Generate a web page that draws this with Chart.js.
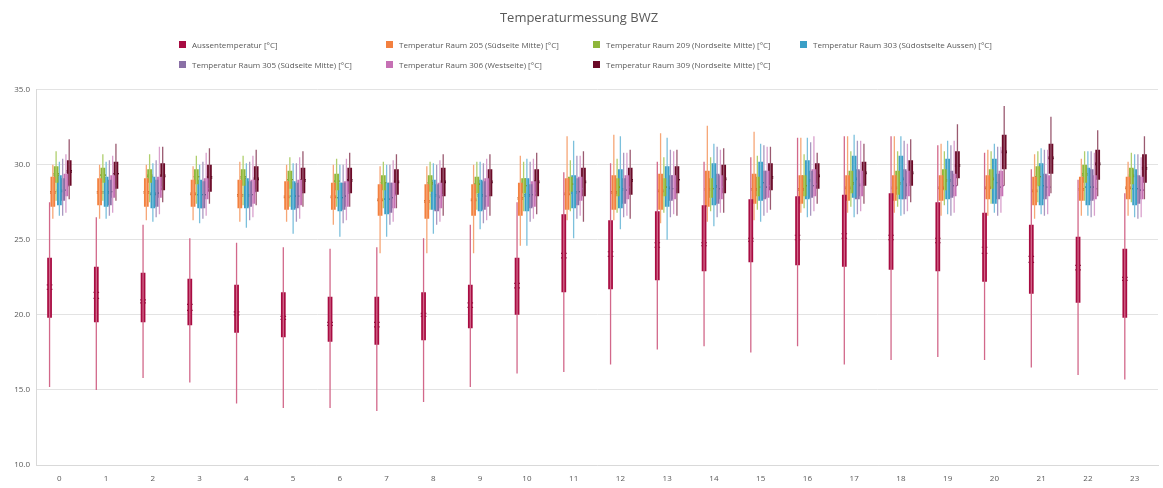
<!DOCTYPE html>
<html>
<head>
<meta charset="utf-8">
<script src="https://cdn.jsdelivr.net/npm/chart.js@4.4.1/dist/chart.umd.min.js"></script>
<style>
    html, body { margin: 0; padding: 0; background: #fff; }
    #wrap { position: relative; width: 1163px; height: 488px; }
    #legend {
        position: absolute; left: 179px; top: 39px;
        display: grid; grid-template-columns: repeat(4, 207px); row-gap: 9px;
        font-family: 'Open Sans', sans-serif; font-size: 8px; color: #595959;
    }
    .item { display: flex; align-items: center; height: 11px; white-space: nowrap; }
    .sw { width: 7px; height: 7px; margin-right: 6px; flex: none; }
</style>
</head>
<body>
<div id="wrap">
    <canvas id="chart" width="1163" height="488"></canvas>
    <div id="legend"></div>
</div>
<script>
// Stunden (Kategorien)
const hours = ['0', '1', '2', '3', '4', '5', '6', '7', '8', '9', '10', '11',
    '12', '13', '14', '15', '16', '17', '18', '19', '20', '21', '22', '23'];

const seriesNames = [
    'Aussentemperatur [°C]',
    'Temperatur Raum 205 (Südseite Mitte) [°C]',
    'Temperatur Raum 209 (Nordseite Mitte) [°C]',
    'Temperatur Raum 303 (Südostseite Aussen) [°C]',
    'Temperatur Raum 305 (Südseite Mitte) [°C]',
    'Temperatur Raum 306 (Westseite) [°C]',
    'Temperatur Raum 309 (Nordseite Mitte) [°C]'
];
const boxColors = ['#a80c42', '#f3803f', '#8fb63a', '#3a9fc6', '#8a70a6', '#c670b4', '#6b0a28'];
const whiskerColors = ['#d2688a', '#f6a676', '#b0cf6e', '#7cc0dc', '#a998c0', '#d9a0cc', '#9a5a70'];
const markColors = ['#6e0a2e', '#b85a22', '#5f7f22', '#25698a', '#584872', '#8a4a7e', '#3a0616'];

// je Stunde: [min, q1, median, mittelwert, q3, max]
const aussen = [
    [15.2, 19.8, 22.0, 21.7, 23.8, 27.5], [15.0, 19.5, 21.5, 21.1, 23.2, 26.5],
    [15.8, 19.5, 21.0, 20.8, 22.8, 26.0], [15.5, 19.3, 20.7, 20.3, 22.4, 25.1],
    [14.1, 18.8, 20.2, 20.0, 22.0, 24.8], [13.8, 18.5, 19.9, 19.7, 21.5, 24.5],
    [13.8, 18.2, 19.5, 19.3, 21.2, 24.4], [13.6, 18.0, 19.5, 19.2, 21.2, 24.5],
    [14.2, 18.3, 20.1, 19.9, 21.5, 25.1], [15.2, 19.1, 20.8, 20.5, 22.0, 26.0],
    [16.1, 20.0, 22.1, 21.8, 23.8, 27.5], [16.2, 21.5, 24.1, 23.8, 26.7, 29.5],
    [16.7, 21.7, 24.2, 23.9, 26.3, 30.1], [17.7, 22.3, 24.8, 24.5, 26.9, 30.2],
    [17.9, 22.9, 24.8, 24.6, 27.3, 30.2], [17.5, 23.5, 25.1, 24.9, 27.7, 30.5],
    [17.9, 23.3, 25.3, 25.0, 27.9, 31.8], [16.7, 23.2, 25.4, 25.1, 28.0, 31.9],
    [17.0, 23.0, 25.3, 25.0, 28.1, 31.9], [17.2, 22.9, 25.1, 24.8, 27.5, 31.3],
    [17.0, 22.2, 24.5, 24.1, 26.8, 30.8], [16.5, 21.4, 23.9, 23.5, 26.0, 29.7],
    [16.0, 20.8, 23.3, 23.0, 25.2, 29.0], [15.7, 19.8, 22.5, 22.3, 24.4, 28.1]
];
const raum205 = [
    [26.4, 27.2, 28.2, 28.1, 29.2, 30.0], [26.4, 27.3, 28.2, 28.1, 29.1, 30.0],
    [26.3, 27.2, 28.2, 28.1, 29.1, 30.0], [26.3, 27.2, 28.1, 28.0, 29.0, 29.9],
    [26.2, 27.1, 28.0, 27.9, 29.0, 30.2], [26.2, 27.0, 27.9, 27.8, 28.9, 30.0],
    [26.0, 27.0, 27.9, 27.8, 28.8, 30.0], [24.1, 26.6, 27.7, 27.6, 28.7, 29.9],
    [24.1, 26.4, 27.6, 27.5, 28.7, 29.9], [24.1, 26.6, 27.7, 27.6, 28.7, 30.0],
    [24.6, 26.6, 27.8, 27.7, 28.8, 30.6], [26.3, 27.0, 28.1, 28.0, 29.1, 31.9],
    [26.3, 27.0, 28.2, 28.1, 29.3, 32.0], [26.1, 27.0, 28.3, 28.2, 29.4, 32.1],
    [26.2, 27.2, 28.4, 28.3, 29.6, 32.6], [26.3, 27.4, 28.4, 28.3, 29.4, 32.2],
    [26.8, 27.4, 28.4, 28.3, 29.3, 31.8], [26.8, 27.6, 28.5, 28.4, 29.3, 31.9],
    [26.8, 27.6, 28.5, 28.4, 29.3, 31.9], [26.6, 27.6, 28.5, 28.4, 29.3, 31.4],
    [26.6, 27.7, 28.5, 28.4, 29.3, 31.0], [26.4, 27.3, 28.3, 28.2, 29.2, 30.7],
    [26.6, 27.6, 28.4, 28.3, 29.2, 30.4], [26.6, 27.7, 28.5, 28.4, 29.2, 30.2]
];
const raum209 = [
    [27.6, 28.8, 29.4, 29.3, 29.9, 30.9], [27.6, 28.8, 29.3, 29.3, 29.8, 30.7],
    [27.5, 28.8, 29.3, 29.2, 29.7, 30.7], [27.4, 28.7, 29.2, 29.2, 29.7, 30.6],
    [27.3, 28.6, 29.2, 29.1, 29.7, 30.6], [27.2, 28.4, 29.0, 29.0, 29.6, 30.5],
    [27.2, 28.3, 28.9, 28.9, 29.4, 30.4], [27.1, 28.3, 28.8, 28.8, 29.3, 30.2],
    [27.0, 28.2, 28.8, 28.7, 29.3, 30.2], [27.0, 28.1, 28.7, 28.7, 29.2, 30.2],
    [26.9, 28.1, 28.6, 28.6, 29.1, 30.2], [26.9, 28.2, 28.7, 28.7, 29.2, 30.3],
    [26.8, 27.9, 28.5, 28.5, 29.1, 30.4], [26.8, 27.9, 28.5, 28.5, 29.1, 30.5],
    [26.9, 27.8, 28.4, 28.4, 29.1, 30.5], [27.0, 27.9, 28.5, 28.5, 29.2, 30.6],
    [27.1, 27.9, 28.6, 28.6, 29.3, 30.7], [27.2, 28.1, 28.8, 28.7, 29.6, 30.9],
    [27.2, 28.0, 28.8, 28.7, 29.6, 30.9], [27.3, 28.3, 29.0, 28.9, 29.7, 30.9],
    [27.4, 28.4, 29.1, 29.0, 29.7, 30.9], [27.5, 28.6, 29.2, 29.2, 29.9, 30.9],
    [27.6, 28.8, 29.4, 29.3, 30.0, 30.9], [27.5, 28.7, 29.3, 29.2, 29.8, 30.8]
];
const raum303 = [
    [26.6, 27.3, 28.3, 28.2, 29.3, 30.2], [26.4, 27.2, 28.2, 28.1, 29.2, 30.2],
    [26.2, 27.1, 28.1, 28.0, 29.2, 30.1], [26.1, 27.1, 28.0, 28.0, 29.0, 30.0],
    [25.8, 27.1, 28.0, 27.9, 29.1, 30.1], [25.4, 27.0, 27.9, 27.9, 28.9, 30.1],
    [25.2, 26.9, 27.8, 27.8, 28.8, 30.0], [25.2, 26.7, 27.7, 27.7, 28.8, 30.0],
    [25.4, 27.0, 28.0, 27.9, 29.0, 30.1], [25.7, 26.9, 28.0, 27.9, 29.0, 30.2],
    [24.6, 26.9, 28.0, 27.9, 29.1, 30.4], [25.1, 27.1, 28.2, 28.1, 29.3, 31.6],
    [25.7, 27.1, 28.4, 28.3, 29.7, 31.9], [25.0, 27.2, 28.5, 28.4, 29.9, 31.8],
    [25.9, 27.3, 28.6, 28.5, 30.1, 31.4], [26.2, 27.6, 28.8, 28.8, 30.2, 31.4],
    [26.5, 27.7, 29.0, 28.9, 30.3, 31.8], [26.5, 27.8, 29.1, 29.0, 30.6, 32.0],
    [26.6, 27.7, 29.1, 29.0, 30.6, 31.9], [26.7, 27.7, 29.0, 28.9, 30.4, 31.6],
    [26.8, 27.4, 28.8, 28.8, 30.4, 31.4], [26.7, 27.3, 28.6, 28.6, 30.1, 31.1],
    [26.6, 27.3, 28.5, 28.5, 29.8, 30.9], [26.5, 27.3, 28.4, 28.4, 29.7, 30.7]
];
const raum305 = [
    [26.6, 27.6, 28.3, 28.3, 29.1, 30.4], [26.6, 27.3, 28.2, 28.2, 29.0, 30.3],
    [26.5, 27.2, 28.1, 28.1, 29.0, 30.3], [26.4, 27.1, 28.0, 28.0, 28.9, 30.2],
    [26.3, 27.2, 28.0, 28.0, 28.9, 30.2], [26.2, 27.1, 27.9, 27.9, 28.8, 30.1],
    [26.1, 27.0, 27.9, 27.9, 28.8, 30.0], [26.0, 26.8, 27.8, 27.8, 28.8, 30.0],
    [26.0, 26.9, 27.9, 27.8, 28.7, 30.0], [26.1, 27.0, 27.9, 27.9, 28.9, 30.1],
    [26.2, 27.1, 28.0, 28.0, 28.7, 30.2], [26.4, 27.3, 28.2, 28.2, 29.1, 30.6],
    [26.5, 27.4, 28.3, 28.3, 29.1, 30.8], [26.5, 27.6, 28.4, 28.4, 29.3, 31.0],
    [26.5, 27.4, 28.4, 28.4, 29.4, 31.2], [26.6, 27.7, 28.5, 28.5, 29.6, 31.3],
    [26.6, 27.8, 28.6, 28.6, 29.6, 31.5], [26.7, 27.7, 28.7, 28.6, 29.7, 31.6],
    [26.7, 27.7, 28.7, 28.6, 29.7, 31.6], [26.6, 27.8, 28.6, 28.6, 29.6, 31.3],
    [26.6, 27.7, 28.5, 28.5, 29.4, 31.2], [26.6, 27.7, 28.5, 28.5, 29.4, 31.0],
    [26.5, 27.6, 28.5, 28.5, 29.7, 30.9], [26.4, 27.4, 28.3, 28.3, 29.3, 30.7]
];
const raum306 = [
    [26.8, 27.9, 28.6, 28.6, 29.4, 30.7], [26.8, 27.8, 28.6, 28.5, 29.3, 30.6],
    [26.7, 27.8, 28.5, 28.5, 29.2, 31.2], [26.6, 27.7, 28.4, 28.4, 29.1, 30.8],
    [26.5, 27.4, 28.3, 28.2, 29.0, 30.6], [26.4, 27.3, 28.2, 28.2, 29.0, 30.5],
    [26.3, 27.2, 28.1, 28.1, 28.9, 30.4], [26.2, 27.1, 28.0, 28.0, 28.8, 30.3],
    [26.2, 27.1, 28.0, 28.0, 28.8, 30.3], [26.3, 27.2, 28.2, 28.1, 29.1, 30.4],
    [26.4, 27.2, 28.1, 28.1, 28.9, 30.4], [26.6, 27.6, 28.4, 28.4, 29.2, 30.6],
    [26.6, 27.7, 28.5, 28.5, 29.3, 30.8], [26.7, 27.7, 28.5, 28.5, 29.3, 30.9],
    [26.8, 27.7, 28.5, 28.5, 29.3, 31.0], [26.8, 27.8, 28.6, 28.6, 29.6, 31.2],
    [26.9, 27.9, 28.7, 28.7, 29.7, 31.9], [26.9, 27.9, 28.7, 28.7, 29.6, 31.6],
    [26.9, 27.9, 28.7, 28.7, 29.6, 31.4], [26.8, 27.9, 28.6, 28.6, 29.4, 31.6],
    [26.8, 27.9, 28.6, 28.6, 29.6, 31.2], [26.7, 27.9, 28.5, 28.5, 29.3, 31.0],
    [26.6, 27.7, 28.4, 28.4, 29.3, 30.8], [26.5, 27.7, 28.3, 28.3, 29.2, 30.5]
];
const raum309 = [
    [27.7, 28.6, 29.6, 29.5, 30.3, 31.7], [27.6, 28.4, 29.4, 29.4, 30.2, 31.4],
    [27.5, 28.3, 29.3, 29.2, 30.1, 31.2], [27.4, 28.2, 29.2, 29.1, 30.0, 31.1],
    [27.3, 28.2, 29.1, 29.0, 29.9, 31.0], [27.2, 28.1, 29.0, 28.9, 29.8, 30.9],
    [27.2, 28.1, 29.0, 28.9, 29.8, 30.8], [27.1, 28.0, 28.9, 28.8, 29.7, 30.7],
    [26.6, 27.9, 28.9, 28.8, 29.8, 30.7], [26.6, 27.9, 28.9, 28.8, 29.7, 30.7],
    [26.7, 27.9, 28.9, 28.8, 29.7, 30.8], [26.2, 27.9, 28.9, 28.8, 29.8, 30.9],
    [26.4, 28.0, 29.0, 28.9, 29.8, 31.0], [26.6, 28.1, 29.0, 29.0, 29.9, 31.0],
    [26.8, 28.1, 29.1, 29.0, 30.0, 31.1], [27.0, 28.3, 29.2, 29.1, 30.1, 31.2],
    [27.4, 28.4, 29.3, 29.2, 30.1, 30.8], [27.4, 28.6, 29.5, 29.4, 30.2, 31.4],
    [27.5, 28.6, 29.5, 29.4, 30.3, 31.7], [28.6, 29.1, 30.0, 29.9, 30.9, 32.7],
    [28.6, 29.7, 30.9, 30.8, 32.0, 33.9], [28.1, 29.4, 30.5, 30.4, 31.4, 33.2],
    [27.9, 29.0, 30.1, 30.0, 31.0, 32.3], [27.7, 28.8, 29.8, 29.7, 30.7, 31.9]
];

const allSeries = [aussen, raum205, raum209, raum303, raum305, raum306, raum309];

// Boxplot aus schwebenden Balken: Whisker, Box, Median, Mittelwert (gleicher Stack = gleiche Position)
const datasets = [];
allSeries.forEach((rows, s) => {
    const stack = 's' + s;
    datasets.push({
        data: rows.map(r => [r[0], r[5]]),
        backgroundColor: whiskerColors[s],
        barPercentage: 1, maxBarThickness: 1.3, stack
    });
    datasets.push({
        data: rows.map(r => [r[1], r[4]]),
        backgroundColor: boxColors[s],
        barPercentage: 1.45, stack
    });
    datasets.push({
        data: rows.map(r => [r[2] - 0.04, r[2] + 0.04]),
        backgroundColor: markColors[s],
        barPercentage: 1.7, stack
    });
    datasets.push({
        data: rows.map(r => [r[3] - 0.04, r[3] + 0.04]),
        backgroundColor: markColors[s],
        barPercentage: 1.7, stack
    });
});

const ctx = document.getElementById('chart').getContext('2d');
new Chart(ctx, {
    type: 'bar',
    data: { labels: hours, datasets: datasets },
    options: {
        responsive: false,
        animation: false,
        categoryPercentage: 0.49,
        layout: { padding: { left: 0, right: 5, bottom: 0 } },
        plugins: {
            legend: { display: false },
            tooltip: { enabled: false },
            title: {
                display: true,
                text: 'Temperaturmessung BWZ',
                color: '#595959',
                font: { family: 'Open Sans', size: 13, weight: 'normal' },
                padding: { top: 10, bottom: 64 }
            }
        },
        scales: {
            x: {
                stacked: true,
                grid: { display: false },
                border: { color: '#d9d9d9' },
                ticks: { color: '#595959', font: { family: 'Open Sans', size: 8 }, padding: 1 },
                afterFit: scale => { scale.height = 23; }
            },
            y: {
                stacked: false,
                min: 10, max: 35,
                grid: { color: '#e3e3e3', drawTicks: false },
                border: { display: true, color: '#d9d9d9' },
                ticks: {
                    stepSize: 5, padding: 6, color: '#595959',
                    font: { family: 'Open Sans', size: 8 },
                    callback: v => v.toFixed(1)
                },
                afterFit: scale => { scale.width = 36; }
            }
        }
    }
});

// Legende (feste Spalten wie im Original)
const legendEl = document.getElementById('legend');
seriesNames.forEach((name, i) => {
    const item = document.createElement('div');
    item.className = 'item';
    item.innerHTML = '<span class="sw" style="background:' + boxColors[i] + '"></span>' + name;
    legendEl.appendChild(item);
});
</script>
</body>
</html>
